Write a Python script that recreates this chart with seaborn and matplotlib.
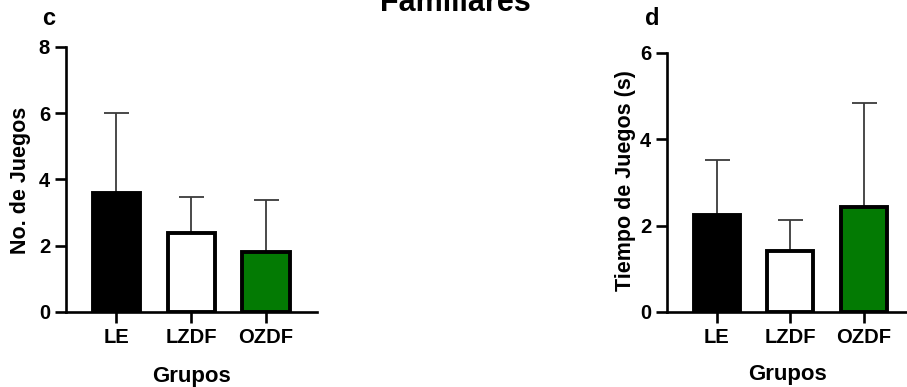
import matplotlib
matplotlib.use("Agg")
import matplotlib.pyplot as plt
import numpy as np
import pandas as pd
import seaborn as sns

# data (mean + upper SD)
groups = ["LE", "LZDF", "OZDF"]
bar_colors = ["#000000", "#ffffff", "#037a03"]
juegos_mean = [3.6, 2.38, 1.80]
juegos_sd = [2.42, 1.10, 1.58]
tiempo_mean = [2.25, 1.41, 2.44]
tiempo_sd = [1.27, 0.71, 2.41]

sns.set_theme(style="ticks")
plt.rcParams["font.family"] = ["Liberation Sans", "DejaVu Sans"]
plt.rcParams["font.weight"] = "bold"
plt.rcParams["text.color"] = "black"
plt.rcParams["axes.labelcolor"] = "black"

fig = plt.figure(figsize=(9.07, 3.87), dpi=100)
ax_c = fig.add_axes([0.0728, 0.1938, 0.2767, 0.6848])
ax_d = fig.add_axes([0.7354, 0.1938, 0.2646, 0.6693])


def draw_panel(ax, means, sds, ylim, yticks, ylabel, xlim, ylab_xy, xlab_y):
    df = pd.DataFrame({"grupo": groups, "valor": means})
    sns.barplot(data=df, x="grupo", y="valor", hue="grupo", palette=bar_colors,
                order=groups, width=0.63, saturation=1, edgecolor="black",
                linewidth=2.8, legend=False, ax=ax, zorder=3)
    ax.errorbar(np.arange(len(groups)), means,
                yerr=[np.zeros(len(sds)), sds], fmt="none",
                ecolor="#3a3a3a", elinewidth=1.3, capsize=9, capthick=1.3, zorder=2)
    ax.set_ylim(*ylim)
    ax.set_yticks(yticks)
    ax.set_xlim(*xlim)
    for s in ["top", "right"]:
        ax.spines[s].set_visible(False)
    for s in ["left", "bottom"]:
        ax.spines[s].set_linewidth(1.9)
        ax.spines[s].set_color("black")
    ax.tick_params(width=1.9, length=8, labelsize=14.5, pad=3.5, colors="black")
    for lab in ax.get_xticklabels() + ax.get_yticklabels():
        lab.set_fontweight("bold")
    ax.set_ylabel(ylabel, fontsize=15.5, fontweight="bold", va="center")
    ax.set_xlabel("Grupos", fontsize=16, fontweight="bold", va="center")
    ax.yaxis.set_label_coords(*ylab_xy)
    ax.xaxis.set_label_coords(0.5, xlab_y)


draw_panel(ax_c, juegos_mean, juegos_sd, (0, 8), [0, 2, 4, 6, 8],
           "No. de Juegos", (-0.67, 2.68), (-0.183, 0.498), -0.245)
draw_panel(ax_d, tiempo_mean, tiempo_sd, (0, 6), [0, 2, 4, 6],
           "Tiempo de Juegos (s)", (-0.68, 2.59), (-0.175, 0.506), -0.243)

fig.text(0.502, 0.972, "Familiares", ha="center", va="baseline",
         fontsize=22, fontweight="bold")
fig.text(0.046, 0.953, "c", ha="left", va="center", fontsize=17, fontweight="bold")
fig.text(0.711, 0.953, "d", ha="left", va="center", fontsize=17, fontweight="bold")

fig.savefig("out.png", dpi=100)
